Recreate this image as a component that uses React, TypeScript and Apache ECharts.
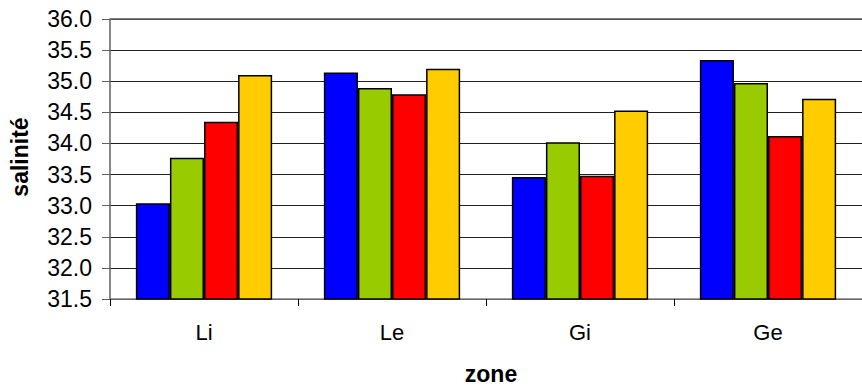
import React, { useEffect, useRef } from "react";
import * as echarts from "echarts";

const categories = ["Li", "Le", "Gi", "Ge"];
const seriesNames = ["série 1", "série 2", "série 3", "série 4"];
const s1 = [33.04, 35.14, 33.46, 35.34];
const s2 = [33.77, 34.89, 34.02, 34.97];
const s3 = [34.35, 34.79, 33.48, 34.12];
const s4 = [35.1, 35.2, 34.53, 34.72];
const colors = ["#0000FF", "#99CC00", "#FF0000", "#FFCC00"];
const yMin = 31.5;
const yMax = 36.0;
const yStep = 0.5;

const FONT = "'Liberation Sans', Arial, sans-serif";

export default function App() {
  const ref = useRef<HTMLDivElement>(null);
  useEffect(() => {
    if (!ref.current) return;
    const chart = echarts.init(ref.current, null, { renderer: "svg" });
    const all = [s1, s2, s3, s4];
    chart.setOption({
      animation: false,
      backgroundColor: "#ffffff",
      textStyle: { fontFamily: FONT },
      grid: { left: 110, right: -9, top: 19, bottom: 90, containLabel: false },
      xAxis: {
        type: "category",
        data: categories,
        axisLine: { show: true, lineStyle: { color: "#808080", width: 1.5 } },
        axisTick: { show: true, length: 7, lineStyle: { color: "#000", width: 1 } },
        axisLabel: { color: "#000", fontSize: 22, margin: 22, fontFamily: FONT },
        splitLine: { show: false },
      },
      yAxis: {
        type: "value",
        min: yMin,
        max: yMax,
        interval: yStep,
        axisLine: { show: true, lineStyle: { color: "#606060", width: 1.5 } },
        axisTick: { show: true, length: 8, lineStyle: { color: "#606060", width: 1 } },
        axisLabel: {
          color: "#000",
          fontSize: 23,
          margin: 18,
          formatter: (v: number) => v.toFixed(1),
          fontFamily: FONT,
        },
        splitLine: { show: true, lineStyle: { color: "#202020", width: 1 } },
      },
      series: all.map((d, i) => ({
        type: "bar",
        name: seriesNames[i],
        data: d,
        barGap: "0%",
        barCategoryGap: "27.5%",
        itemStyle: { color: colors[i], borderColor: "#000", borderWidth: 1.5 },
      })),
      graphic: [
        {
          type: "rect",
          shape: { x: 110, y: 18, width: 760, height: 1.5 },
          style: { fill: "#808080" },
          z: 10,
        },
        {
          type: "text",
          x: 20,
          y: 157,
          rotation: Math.PI / 2,
          style: {
            text: "salinité",
            fill: "#000",
            font: "bold 23px " + FONT,
            textAlign: "center",
            textVerticalAlign: "middle",
          },
        },
        {
          type: "text",
          x: 491,
          y: 374,
          style: {
            text: "zone",
            fill: "#000",
            font: "bold 23px " + FONT,
            textAlign: "center",
            textVerticalAlign: "middle",
          },
        },
      ],
    });
    return () => chart.dispose();
  }, []);
  return (
    <div
      ref={ref}
      style={{ position: "fixed", left: 0, top: 0, width: 862, height: 389 }}
    />
  );
}
